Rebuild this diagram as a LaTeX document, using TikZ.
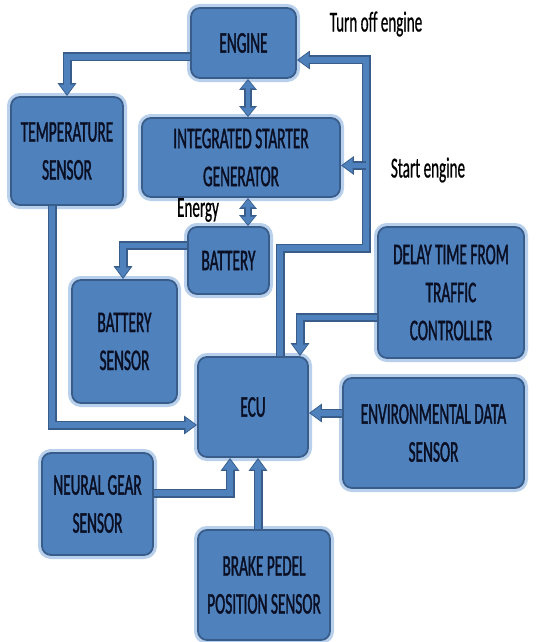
\documentclass[tikz,border=0pt]{standalone}
\usepackage{fontspec}
\newfontfamily\boxfont[FakeStretch=0.51,FakeBold=1.2]{Carlito}
\newfontfamily\lblfont[FakeStretch=0.52,FakeBold=0.6]{Carlito}
\usetikzlibrary{arrows.meta,calc}
\definecolor{boxfill}{RGB}{79,129,189}
\definecolor{boxline}{RGB}{56,93,138}
\definecolor{boxglow}{RGB}{185,208,236}
\definecolor{txt}{RGB}{10,15,35}
\begin{document}
\begin{tikzpicture}[x=1pt,y=-1pt,
  box/.style={rounded corners=9pt, fill=boxfill, draw=boxline, line width=1.8pt,
    preaction={draw=boxglow, line width=8pt},
    text=txt, font=\boxfont\fontsize{30}{38}\selectfont, align=center, inner sep=0pt},
  lbl/.style={text=black, font=\lblfont\fontsize{29}{32}\selectfont, inner sep=0pt},
  conn/.style={line width=5.5pt, draw=boxfill,
    -{Triangle[length=10pt 0 0,width=14pt 0 0]}, shorten >=1.6pt,
    preaction={draw=boxline, line width=9pt,
      -{Triangle[length=13pt 0 0,width=18pt 0 0]}, shorten >=0pt}},
  dconn/.style={line width=4.5pt, draw=boxfill,
    {Triangle[length=8pt 0 0,width=13pt 0 0]}-{Triangle[length=8pt 0 0,width=13pt 0 0]},
    shorten >=1.5pt, shorten <=1.5pt,
    preaction={draw=boxline, line width=8pt,
      {Triangle[length=11pt 0 0,width=17pt 0 0]}-{Triangle[length=11pt 0 0,width=17pt 0 0]},
      shorten >=0pt, shorten <=0pt}}
]
\useasboundingbox (0,0) rectangle (536,642);
\fill[white] (0,0) rectangle (536,642);

% boxes
\node[box, minimum width=105pt, minimum height=70pt] (engine) at (243.5,43) {ENGINE};
\node[box, minimum width=112pt, minimum height=108pt] (temp) at (67,151) {TEMPERATURE\\SENSOR};
\node[box, minimum width=198pt, minimum height=79pt] (isg) at (241,157.5) {INTEGRATED STARTER\\GENERATOR};
\node[box, minimum width=81pt, minimum height=67pt] (battery) at (228.5,260.5) {BATTERY};
\node[box, minimum width=105pt, minimum height=123pt] (bsens) at (124.5,341.5) {BATTERY\\SENSOR};
\node[box, minimum width=146pt, minimum height=131pt] (delay) at (451,292.5) {DELAY TIME FROM\\TRAFFIC\\CONTROLLER};
\node[box, minimum width=110pt, minimum height=100pt] (ecu) at (253,407) {ECU};
\node[box, minimum width=181pt, minimum height=110pt] (env) at (433.5,433) {ENVIRONMENTAL DATA\\SENSOR};
\node[box, minimum width=111pt, minimum height=102pt] (neural) at (97.5,504) {NEURAL GEAR\\SENSOR};
\node[box, minimum width=132pt, minimum height=110pt] (brake) at (264,585) {BRAKE PEDEL\\POSITION SENSOR};

% labels
\node[lbl] (turnoff) at (376,24) {Turn off engine};
\node[lbl] (start) at (428,170) {Start engine};
\node[lbl] (energy) at (198,210) {Energy};

% helper coordinates
\coordinate (vx) at (248,0);
\coordinate (bus) at (366,248);
\coordinate (engin) at ($(engine.east)+(0,17)$);
\coordinate (isgin) at ($(isg.east)+(0,8)$);
\coordinate (brk) at (258,0);
\coordinate (envout) at ($(env.west)+(0,-20)$);

% connectors
\draw[conn] ($(engine.west)+(0,14)$) -| (temp.north);
\draw[dconn] (engine.south -| vx) -- (isg.north -| vx);
\draw[dconn] (isg.south -| vx) -- (battery.north -| vx);
\draw[conn] ($(battery.west)+(0,-15)$) -| ($(bsens.north)+(-1.5,0)$);
\draw[conn] ($(temp.south)+(-15,0)$) |- ($(ecu.west)+(0,18)$);
\draw[conn] ($(ecu.north)+(27,0)$) |- (bus) -- (bus |- engin) -- (engin);
\draw[conn] (bus |- isgin) -- (isgin);
\draw[conn] ($(delay.west)+(0,25)$) -| ($(ecu.north)+(47,0)$);
\draw[conn] (envout) -- (ecu.east |- envout);
\draw[conn] ($(neural.east)+(0,-11)$) -| ($(ecu.south)+(-23,0)$);
\draw[conn] (brake.north -| brk) -- (ecu.south -| brk);
\end{tikzpicture}
\end{document}
